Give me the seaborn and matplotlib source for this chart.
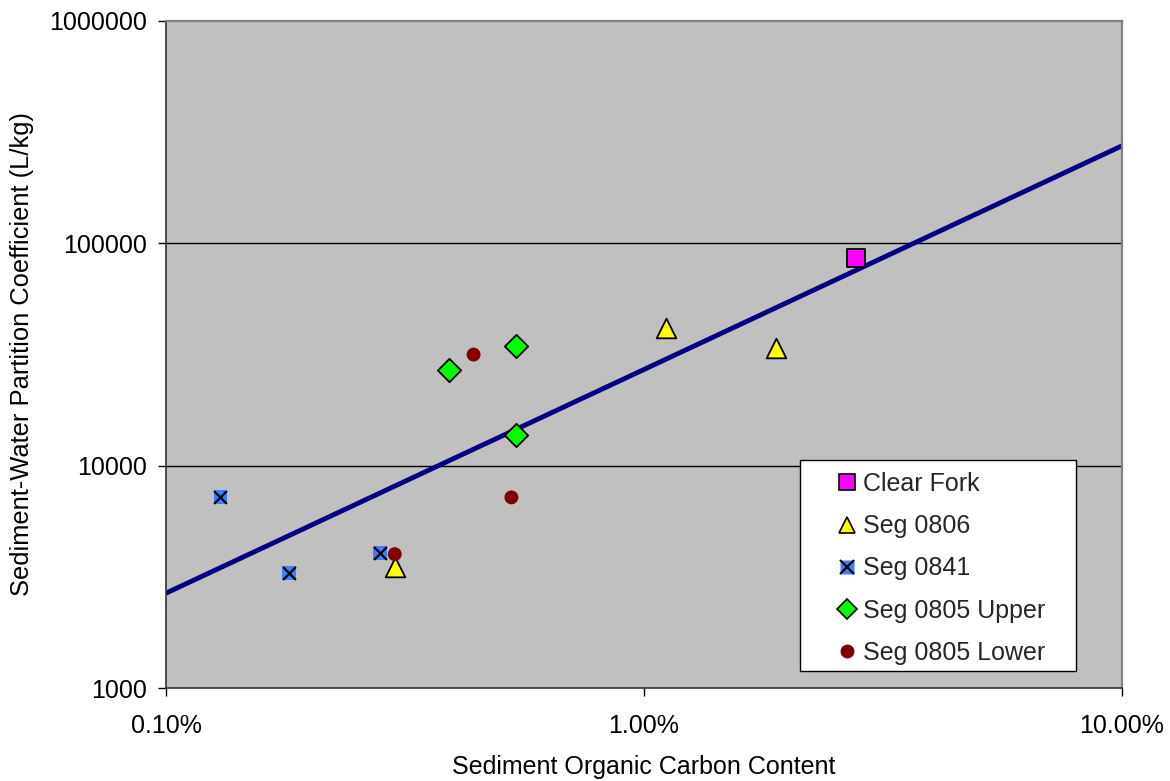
import matplotlib
matplotlib.use("Agg")
import matplotlib.pyplot as plt
import seaborn as sns
import numpy as np
import pandas as pd
from matplotlib.lines import Line2D
from matplotlib.patches import Rectangle
from matplotlib.ticker import FixedLocator, NullLocator, FuncFormatter

# Sediment organic carbon (%) and partition coefficient (L/kg) by site
clear_fork_oc = [2.78]
clear_fork_kd = [86000]

seg0806_oc = [1.11, 1.89, 0.301]
seg0806_kd = [41400, 34000, 3500]

seg0841_oc = [0.130, 0.181, 0.280]
seg0841_kd = [7200, 3300, 4040]

seg0805u_oc = [0.390, 0.541, 0.541]
seg0805u_kd = [26800, 34700, 13700]

seg0805l_oc = [0.440, 0.528, 0.301]
seg0805l_kd = [31600, 7200, 4000]

# Regression line: Kd = a * OC%^b
fit_a = 27080
fit_b = 1.006
fit_range = [0.1, 10.0]

x_ticks = [0.1, 1.0, 10.0]
x_tick_labels = ["0.10%", "1.00%", "10.00%"]
y_ticks = [1000, 10000, 100000, 1000000]

sns.set_theme(style="white")
plt.rcParams["font.family"] = ["Liberation Sans", "DejaVu Sans"]
FS = 18

W, H = 1170, 781
L, R, T, B = 166, 1122, 21, 688

fig = plt.figure(figsize=(W / 100, H / 100), dpi=100)
ax = fig.add_axes([L / W, 1 - B / H, (R - L) / W, (B - T) / H])
ax.set_facecolor("#C0C0C0")
ax.set_xscale("log")
ax.set_yscale("log")
ax.set_xlim(0.1, 10)
ax.set_ylim(1000, 1000000)

for yv in [10000, 100000]:
    ax.axhline(yv, color="black", lw=1.0, zorder=1)

xf = np.array(fit_range)
ax.plot(xf, fit_a * xf ** fit_b, color="#000080", lw=3.5, zorder=2, solid_capstyle="butt")

def frame(oc, kd):
    return pd.DataFrame({"oc": oc, "kd": kd})

sns.scatterplot(data=frame(clear_fork_oc, clear_fork_kd), x="oc", y="kd", ax=ax,
                marker="s", s=150, color="#FF00FF", edgecolor="black", linewidth=1.3, zorder=4)
sns.scatterplot(data=frame(seg0806_oc, seg0806_kd), x="oc", y="kd", ax=ax,
                marker="^", s=200, color="#FFFF00", edgecolor="black", linewidth=1.3, zorder=4)
sns.scatterplot(data=frame(seg0841_oc, seg0841_kd), x="oc", y="kd", ax=ax,
                marker="s", s=100, color="#3F7FFF", edgecolor="none", linewidth=0, zorder=4)
sns.scatterplot(data=frame(seg0841_oc, seg0841_kd), x="oc", y="kd", ax=ax,
                marker="x", s=85, color="black", linewidth=1.6, zorder=5)
sns.scatterplot(data=frame(seg0805u_oc, seg0805u_kd), x="oc", y="kd", ax=ax,
                marker="D", s=140, color="#00FF00", edgecolor="black", linewidth=1.3, zorder=4)
sns.scatterplot(data=frame(seg0805l_oc, seg0805l_kd), x="oc", y="kd", ax=ax,
                marker="o", s=100, color="#800000", edgecolor="none", linewidth=0, zorder=4)

ax.xaxis.set_major_locator(FixedLocator(x_ticks))
ax.xaxis.set_minor_locator(NullLocator())
ax.set_xticklabels(x_tick_labels)
ax.yaxis.set_major_locator(FixedLocator(y_ticks))
ax.yaxis.set_minor_locator(NullLocator())
ax.yaxis.set_major_formatter(FuncFormatter(lambda v, p: f"{int(round(v))}"))
ax.tick_params(axis="both", which="major", direction="out", length=6, width=1,
               color="black", labelsize=FS, labelcolor="black", bottom=True, left=True)
ax.tick_params(axis="y", pad=8)
ax.tick_params(axis="x", pad=13)

for side in ["left", "bottom"]:
    ax.spines[side].set_color("#333333")
    ax.spines[side].set_linewidth(1.2)
for side in ["top", "right"]:
    ax.spines[side].set_color("#808080")
    ax.spines[side].set_linewidth(1.6)

ax.set_xlabel("Sediment Organic Carbon Content", fontsize=FS, color="black")
ax.set_ylabel("Sediment-Water Partition Coefficient (L/kg)", fontsize=18.4, color="black")
ax.xaxis.set_label_coords(0.5, -(755 - B) / (B - T))
ax.yaxis.set_label_coords(-(L - 34) / (R - L), 0.5)

# Legend frame drawn as a patch so the entries can be inset independently
def ax_x(px):
    return (px - L) / (R - L)

def ax_y(py):
    return (B - py) / (B - T)

box = Rectangle((ax_x(800), ax_y(671)), ax_x(1076) - ax_x(800), ax_y(460) - ax_y(671),
                transform=ax.transAxes, facecolor="white", edgecolor="black", lw=1.0, zorder=9)
ax.add_patch(box)

handles = [
    Line2D([], [], ls="none", marker="s", ms=11, mfc="#FF00FF", mec="black", mew=1.2),
    Line2D([], [], ls="none", marker="^", ms=12, mfc="#FFFF00", mec="black", mew=1.2),
    (Line2D([], [], ls="none", marker="s", ms=10, mfc="#3F7FFF", mec="none"),
     Line2D([], [], ls="none", marker="x", ms=9.5, mec="black", mew=1.5)),
    Line2D([], [], ls="none", marker="D", ms=10.5, mfc="#00FF00", mec="black", mew=1.2),
    Line2D([], [], ls="none", marker="o", ms=10, mfc="#800000", mec="none"),
]
labels = ["Clear Fork", "Seg 0806", "Seg 0841", "Seg 0805 Upper", "Seg 0805 Lower"]
leg = ax.legend(handles, labels, loc="upper left",
                bbox_to_anchor=(ax_x(834), ax_y(472)),
                borderaxespad=0, borderpad=0, fontsize=FS, frameon=False,
                handlelength=1.0, handletextpad=0.15, labelspacing=0.73)
leg.set_zorder(10)

fig.savefig("out.png", dpi=100, facecolor="white")
